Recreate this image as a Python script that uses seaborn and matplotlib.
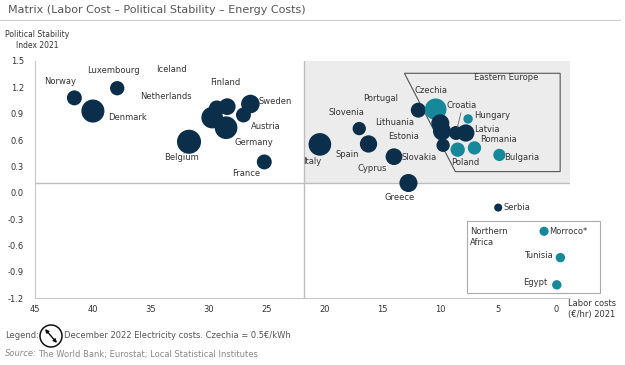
import numpy as np
import pandas as pd
import matplotlib
matplotlib.use("Agg")
import matplotlib.pyplot as plt
import seaborn as sns
from matplotlib.patches import Polygon, Rectangle, Ellipse, FancyArrowPatch
from matplotlib.lines import Line2D

# data
countries = ["Norway", "Luxembourg", "Denmark", "Netherlands", "Iceland", "Finland",
             "Germany", "Austria", "Sweden", "Belgium", "France", "Italy", "Slovenia",
             "Spain", "Slovakia", "Greece", "Portugal", "Czechia", "Lithuania", "Estonia",
             "Cyprus", "Croatia", "Hungary", "Latvia", "Poland", "Romania", "Bulgaria",
             "Serbia", "Morroco*", "Tunisia", "Egypt"]
labor_cost = [41.6, 37.9, 40.0, 29.7, 29.3, 28.4, 28.5, 27.0, 26.4, 31.7, 25.2, 20.4, 17.0,
              16.2, 14.0, 12.75, 11.9, 10.4, 10.0, 9.85, 9.76, 8.64, 7.6, 7.8, 8.5, 7.05, 4.9,
              5.0, 1.04, -0.37, -0.06]
stability = [1.08, 1.19, 0.93, 0.855, 0.96, 0.98, 0.74, 0.885, 1.01, 0.58, 0.35, 0.55, 0.73,
             0.555, 0.41, 0.11, 0.94, 0.95, 0.79, 0.70, 0.54, 0.68, 0.84, 0.68, 0.49, 0.51, 0.43,
             -0.17, -0.44, -0.74, -1.05]
elec_cost = [0.24, 0.22, 0.57, 0.50, 0.27, 0.30, 0.55, 0.24, 0.37, 0.62, 0.24, 0.55, 0.19,
             0.32, 0.30, 0.35, 0.24, 0.50, 0.35, 0.35, 0.19, 0.21, 0.095, 0.32, 0.22, 0.19, 0.16,
             0.07, 0.09, 0.095, 0.095]
focus = ["Czechia", "Hungary", "Poland", "Romania", "Bulgaria", "Morroco*", "Tunisia", "Egypt"]

avg_labor = 21.8
avg_stability = 0.11
x_ticks = [45, 40, 35, 30, 25, 20, 15, 10, 5, 0]
y_ticks = [1.5, 1.2, 0.9, 0.6, 0.3, 0.0, -0.3, -0.6, -0.9, -1.2]

# label offsets in points (dx, dy)
label_offsets = {
    "Norway": (-10.3, 11.5), "Luxembourg": (-2.9, 12.5), "Denmark": (24.9, -4.8),
    "Netherlands": (-33.1, 15.3), "Iceland": (-32.5, 28.3), "Finland": (-1.4, 17.1),
    "Germany": (19.7, -10.6), "Austria": (16.3, -8.6), "Sweden": (18.0, 1.7),
    "Belgium": (-5.3, -11.3), "France": (-13.2, -8.6), "Italy": (-5.3, -12.0),
    "Slovenia": (-9.1, 11.5), "Spain": (-15.6, -7.9), "Slovakia": (18.2, -0.5),
    "Greece": (-6.7, -10.1), "Portugal": (-27.1, 8.4), "Czechia": (-3.1, 13.2),
    "Lithuania": (-33.1, 0.9), "Estonia": (-27.4, -4.1), "Cyprus": (-51.3, -16.8),
    "Croatia": (4.1, 19.7), "Hungary": (17.3, 2.2), "Latvia": (15.1, 2.7),
    "Poland": (5.3, -8.9), "Romania": (17.3, 6.0), "Bulgaria": (16.3, -1.9),
    "Serbia": (13.7, 0.4), "Morroco*": (17.5, 0.0), "Tunisia": (-15.8, 1.4),
    "Egypt": (-15.6, 1.7),
}

df = pd.DataFrame({"country": countries, "labor": labor_cost,
                   "stability": stability, "elec": elec_cost})
df["group"] = np.where(df["country"].isin(focus), "focus", "other")

sns.set_style("white")
plt.rcParams["font.family"] = ["DejaVu Sans"]

navy = "#0b2e4a"
teal = "#17879a"
txt = "#333333"
grey = "#555555"

fig = plt.figure(figsize=(6.25, 3.65), dpi=100)
ax = fig.add_axes([35 / 625, 67 / 365, 535 / 625, 237 / 365])

ax.set_xlim(45, -1.2)
ax.set_ylim(-1.2, 1.5)

# shaded quadrant
ax.add_patch(Rectangle((avg_labor, avg_stability), -1.2 - avg_labor, 1.5 - avg_stability,
                       facecolor="#ececec", edgecolor="none", zorder=0))
ax.axvline(avg_labor, color="#bdbdbd", lw=1, zorder=1)
ax.axhline(avg_stability, color="#bdbdbd", lw=1, zorder=1)

sns.scatterplot(data=df, x="labor", y="stability", size="elec", sizes=(0, 484),
                size_norm=(0, 1), hue="group", palette={"focus": teal, "other": navy},
                linewidth=0, alpha=1, legend=False, ax=ax, zorder=3)

for c, xv, yv in zip(countries, labor_cost, stability):
    dx, dy = label_offsets[c]
    ax.annotate(c, (xv, yv), xytext=(dx, dy), textcoords="offset points",
                ha="center", va="center", fontsize=6, color=txt, zorder=4)

# Croatia leader line
cro = countries.index("Croatia")
ax.annotate("", (labor_cost[cro], stability[cro]), xytext=(3.5, 14.5),
            textcoords="offset points",
            arrowprops=dict(arrowstyle="-", color="#666666", lw=0.6,
                            shrinkA=0, shrinkB=4))

# Eastern Europe outline
ax.add_patch(Polygon([(13.1, 1.36), (-0.35, 1.36), (-0.35, 0.24), (8.7, 0.24)],
                     closed=True, fill=False, edgecolor="#555555", lw=0.8, zorder=2))
ax.text(4.3, 1.31, "Eastern Europe", fontsize=6, color=txt, ha="center", va="center")

# Northern Africa box
ax.add_patch(Rectangle((7.73, -1.14), -3.78 - 7.73, -0.32 + 1.14, fill=False,
                       edgecolor="#aaaaaa", lw=0.8, clip_on=False, zorder=2))
ax.text(7.4, -0.39, "Northern\nAfrica", fontsize=6, color=txt, ha="left", va="top",
        linespacing=1.3)

ax.set_xticks(x_ticks)
ax.set_yticks(y_ticks)
ax.set_xticklabels([str(t) for t in x_ticks])
ax.set_yticklabels([f"{t:.1f}" for t in y_ticks])
ax.tick_params(axis="both", length=0, labelsize=6, colors=txt)
ax.tick_params(axis="y", pad=8)
ax.tick_params(axis="x", pad=5)
ax.set_xlabel("")
ax.set_ylabel("")
for s in ["top", "right"]:
    ax.spines[s].set_visible(False)
for s in ["left", "bottom"]:
    ax.spines[s].set_color("#c8c8c8")
    ax.spines[s].set_linewidth(0.8)

# title and annotations around the plot
fig.text(8 / 625, 1 - 10 / 365, "Matrix (Labor Cost \u2013 Political Stability \u2013 Energy Costs)",
         fontsize=8, color=grey, ha="left", va="center")
fig.add_artist(Line2D([0, 620 / 625], [1 - 20 / 365, 1 - 20 / 365], color="#cccccc", lw=0.8))
fig.text(37 / 625, 1 - 40 / 365, "Political Stability\nIndex 2021", fontsize=5.5, color=txt,
         ha="center", va="center", linespacing=1.3)
fig.text(592 / 625, 1 - 309 / 365, "Labor costs\n(\u20ac/hr) 2021", fontsize=6, color=txt,
         ha="center", va="center", linespacing=1.4)

# legend row
fig.text(5 / 625, 1 - 336 / 365, "Legend:", fontsize=6, color=grey, ha="left", va="center")
cx, cy = 51 / 625, 1 - 336 / 365
fig.add_artist(Ellipse((cx, cy), 22 / 625, 22 / 365, transform=fig.transFigure,
                       fill=False, edgecolor="#111111", lw=1.1))
fig.add_artist(FancyArrowPatch((45 / 625, 1 - 329 / 365), (57 / 625, 1 - 343 / 365),
                               transform=fig.transFigure, arrowstyle="<|-|>",
                               mutation_scale=5, color="#111111", lw=1.0,
                               shrinkA=0, shrinkB=0))
fig.text(64 / 625, 1 - 336 / 365, "December 2022 Electricity costs. Czechia = 0.5\u20ac/kWh",
         fontsize=6, color=grey, ha="left", va="center")
fig.text(5 / 625, 1 - 354 / 365, "Source:", fontsize=6, color="#888888", style="italic",
         ha="left", va="center")
fig.text(38 / 625, 1 - 354 / 365, "The World Bank; Eurostat; Local Statistical Institutes",
         fontsize=6, color="#888888", ha="left", va="center")

fig.savefig("out.png", dpi=100)
